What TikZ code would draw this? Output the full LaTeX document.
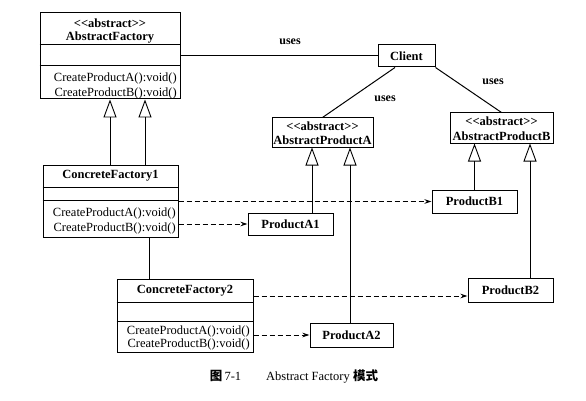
\documentclass[tikz,border=0pt]{standalone}
\usepackage{fontspec}
\setmainfont{Liberation Serif}
\newfontfamily\cjk{Noto Sans CJK SC}
\usetikzlibrary{arrows.meta,calc}
\begin{document}
\begin{tikzpicture}[x=1pt,y=-1pt,
 box/.style={draw,line width=1pt,inner sep=0pt,rectangle},
 lbl/.style={font=\fontsize{12.5}{14}\selectfont\bfseries,inner sep=0pt},
 meth/.style={font=\fontsize{12.5}{14}\selectfont,inner sep=0pt,anchor=east},
 gen/.style={line width=1pt,-{Triangle[open,width=13pt,length=18pt,line width=0.9pt]}},
 dep/.style={line width=1pt,dash pattern=on 5pt off 3pt,-{Stealth[length=7pt,width=4.5pt]}},
 ln/.style={line width=1pt},
 uses/.style={font=\fontsize{12}{14}\selectfont\bfseries,inner sep=0pt}]
\useasboundingbox (0,0) rectangle (586,401);
\fill[white] (0,0) rectangle (586,401);
\newcommand{\abst}{<\kern0pt<abstract>\kern0pt>}
% AbstractFactory
\node[box,minimum width=140pt,minimum height=86pt] (AF) at (110,56) {};
\draw[ln] ($(AF.north west)+(0,32)$) -- ($(AF.north east)+(0,32)$);
\draw[ln] ($(AF.north west)+(0,53)$) -- ($(AF.north east)+(0,53)$);
\node[lbl] (AFs) at (110,23) {\abst};
\node[lbl] (AFn) at (110,38) {AbstractFactory};
\node[meth] (AFm1) at (177,78) {CreateProductA():void()};
\node[meth] (AFm2) at (177,93) {CreateProductB():void()};
% ConcreteFactory1
\node[box,minimum width=135pt,minimum height=72pt] (CF1) at (110.5,201) {};
\draw[ln] ($(CF1.north west)+(0,23)$) -- ($(CF1.north east)+(0,23)$);
\draw[ln] ($(CF1.north west)+(0,36)$) -- ($(CF1.north east)+(0,36)$);
\node[lbl] (CF1n) at (110.5,176) {ConcreteFactory1};
\node[meth] (CF1m1) at (176,213) {CreateProductA():void()};
\node[meth] (CF1m2) at (176,228) {CreateProductB():void()};
% ConcreteFactory2
\node[box,minimum width=136pt,minimum height=73pt] (CF2) at (185,315.5) {};
\draw[ln] ($(CF2.north west)+(0,24)$) -- ($(CF2.north east)+(0,24)$);
\draw[ln] ($(CF2.north west)+(0,43)$) -- ($(CF2.north east)+(0,43)$);
\node[lbl] (CF2n) at (185,291) {ConcreteFactory2};
\node[meth] (CF2m1) at (250,331) {CreateProductA():void()};
\node[meth] (CF2m2) at (250,344) {CreateProductB():void()};
% Client and products
\node[box,lbl,minimum width=57pt,minimum height=22pt] (CL) at (406.5,56) {Client};
\node[box,minimum width=101pt,minimum height=29pt] (APA) at (322.5,132.5) {};
\node[lbl] (APAs) at (322.5,126) {\abst};
\node[lbl] (APAn) at (322.5,140) {AbstractProductA};
\node[box,minimum width=103pt,minimum height=30pt] (APB) at (501.5,128) {};
\node[lbl] (APBs) at (501.5,121) {\abst};
\node[lbl] (APBn) at (501.5,136) {AbstractProductB};
\node[box,lbl,minimum width=85pt,minimum height=23pt] (PB1) at (474.5,201.5) {ProductB1};
\node[box,lbl,minimum width=85pt,minimum height=22pt] (PA1) at (290.5,224) {ProductA1};
\node[box,lbl,minimum width=85pt,minimum height=24pt] (PB2) at (510.5,290) {ProductB2};
\node[box,lbl,minimum width=83pt,minimum height=24pt] (PA2) at (351.5,335) {ProductA2};
% generalizations
\coordinate (g1) at ([xshift=-0.5pt]CF1.north);
\coordinate (g2) at ([xshift=34.5pt]CF1.north);
\draw[gen] (g1) -- (g1 |- AF.south);
\draw[gen] (g2) -- (g2 |- AF.south);
\coordinate (g3) at ([xshift=21.5pt]PA1.north);
\draw[gen] (g3) -- (g3 |- APA.south);
\coordinate (g4) at ([xshift=-1.5pt]PA2.north);
\draw[gen] (g4) -- (g4 |- APA.south);
\draw[gen] (PB1.north) -- (PB1.north |- APB.south);
\coordinate (g5) at ([xshift=19.5pt]PB2.north);
\draw[gen] (g5) -- (g5 |- APB.south);
% associations
\draw[ln] (AF.east |- CL.west) -- (CL.west);
\node[uses] (u1) at (290,42) {uses};
\draw[ln] ([xshift=-11.5pt]CL.south) -- (APA.north);
\node[uses] (u2) at (385,99) {uses};
\draw[ln] (CL.south east) -- (APB.north);
\node[uses] (u3) at (493,82) {uses};
\coordinate (c1) at ([xshift=38.5pt]CF1.south);
\draw[ln] (c1) -- (c1 |- CF2.north);
% dependencies
\draw[dep] (CF1.east |- PB1.west) -- (PB1.west);
\draw[dep] (CF1.east |- PA1.west) -- (PA1.west);
\coordinate (d3) at ([yshift=-6pt]PB2.west);
\draw[dep] (CF2.east |- d3) -- (d3);
\draw[dep] (CF2.east |- PA2.west) -- (PA2.west);
% caption
\node[font=\fontsize{12.5}{14}\selectfont,inner sep=0pt] (cap) at (294,376) {{\cjk\bfseries 图}\,7-1\hspace{2em}Abstract Factory {\cjk\bfseries 模式}};
\end{tikzpicture}
\end{document}
